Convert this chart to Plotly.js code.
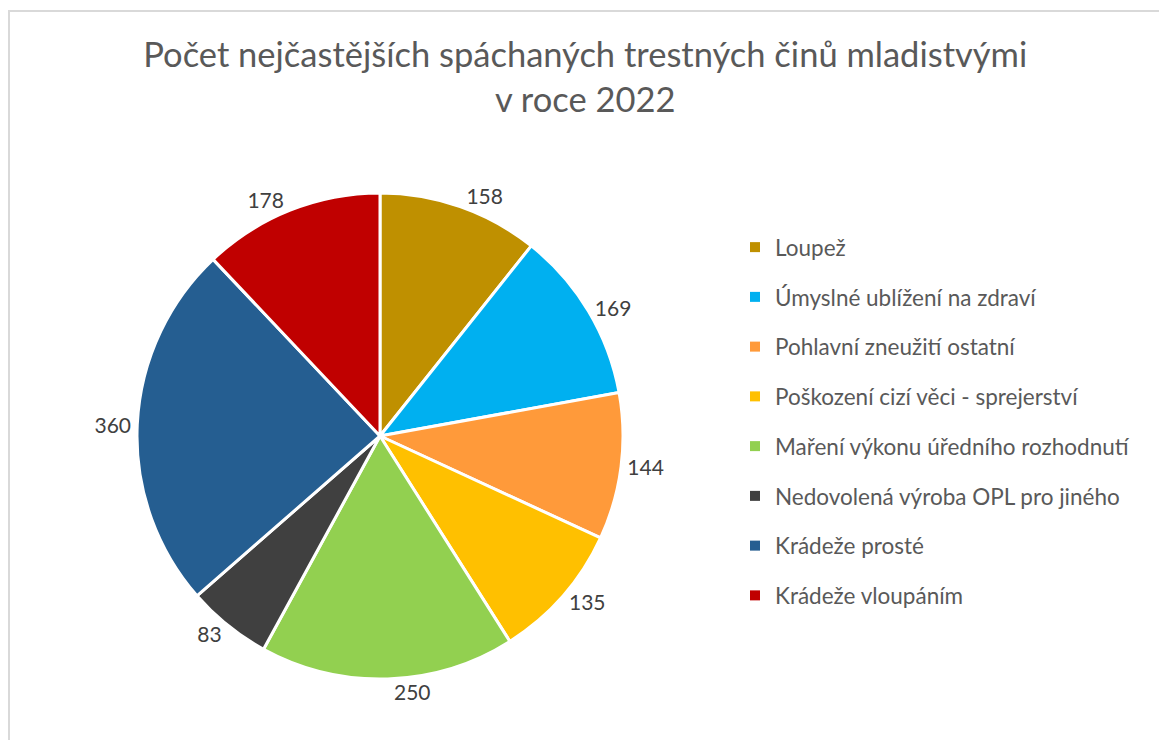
<!DOCTYPE html>
<html>
<head>
<meta charset="utf-8">
<script src="https://cdn.plot.ly/plotly-3.0.1.min.js"></script>
<style>
  html, body { margin: 0; padding: 0; background: #fff; overflow: hidden; }
  #chart { width: 1159px; height: 740px; position: absolute; left: 0; top: 0; }
  #frame { position: absolute; left: 8px; top: 10px; width: 1300px; height: 900px;
           border-left: 2px solid #d9d9d9; border-top: 2px solid #d9d9d9; pointer-events: none; }
</style>
</head>
<body>
<div id="chart"></div>
<div id="frame"></div>
<script>
const categories = [
  "Loupež",
  "Úmyslné ublížení na zdraví",
  "Pohlavní zneužití ostatní",
  "Poškození cizí věci - sprejerství",
  "Maření výkonu úředního rozhodnutí",
  "Nedovolená výroba OPL pro jiného",
  "Krádeže prosté",
  "Krádeže vloupáním"
];
const values = [158, 169, 144, 135, 250, 83, 360, 178];
const colors = ["#BF9000", "#00B0F0", "#FF9A3A", "#FFC000", "#92D050", "#404040", "#255E91", "#C00000"];
const titleText = "Počet nejčastějších spáchaných trestných činů mladistvými<br>v roce 2022";

const FONT = "Lato, 'Open Sans', sans-serif";

const pie = {
  type: "pie",
  labels: categories,
  values: values,
  sort: false,
  direction: "clockwise",
  rotation: 0,
  marker: { colors: colors, line: { color: "#ffffff", width: 3 } },
  textinfo: "value",
  textposition: "outside",
  outsidetextfont: { family: FONT, size: 21, color: "#404040" },
  showlegend: false,
  hoverinfo: "label+value",
  domain: { x: [137 / 1159, 623 / 1159], y: [61 / 740, 547 / 740] }
};

const legendTraces = categories.map((c, i) => ({
  type: "scatter",
  mode: "markers",
  x: [null],
  y: [null],
  name: c,
  legendgroup: "g" + i,
  marker: { symbol: "square", size: 10, color: colors[i] },
  hoverinfo: "skip",
  showlegend: true
}));

const layout = {
  width: 1159,
  height: 740,
  margin: { l: 0, r: 0, t: 0, b: 0 },
  paper_bgcolor: "#ffffff",
  plot_bgcolor: "rgba(0,0,0,0)",
  font: { family: FONT, color: "#595959" },
  title: {
    text: titleText,
    font: { family: FONT, size: 34.5, color: "#595959" },
    x: 0.505,
    xanchor: "center",
    y: 1 - 67 / 740,
    yanchor: "top",
    yref: "container"
  },
  xaxis: { visible: false, domain: [0.6, 0.61] },
  yaxis: { visible: false, domain: [0.6, 0.61] },
  showlegend: true,
  legend: {
    x: 735 / 1159,
    xanchor: "left",
    y: 1 - 226 / 740,
    yanchor: "top",
    traceorder: "grouped",
    tracegroupgap: 17.5,
    font: { family: FONT, size: 22.5, color: "#595959" },
    bgcolor: "rgba(0,0,0,0)"
  }
};

Plotly.newPlot("chart", [pie].concat(legendTraces), layout, { displayModeBar: false, staticPlot: true });
</script>
</body>
</html>
